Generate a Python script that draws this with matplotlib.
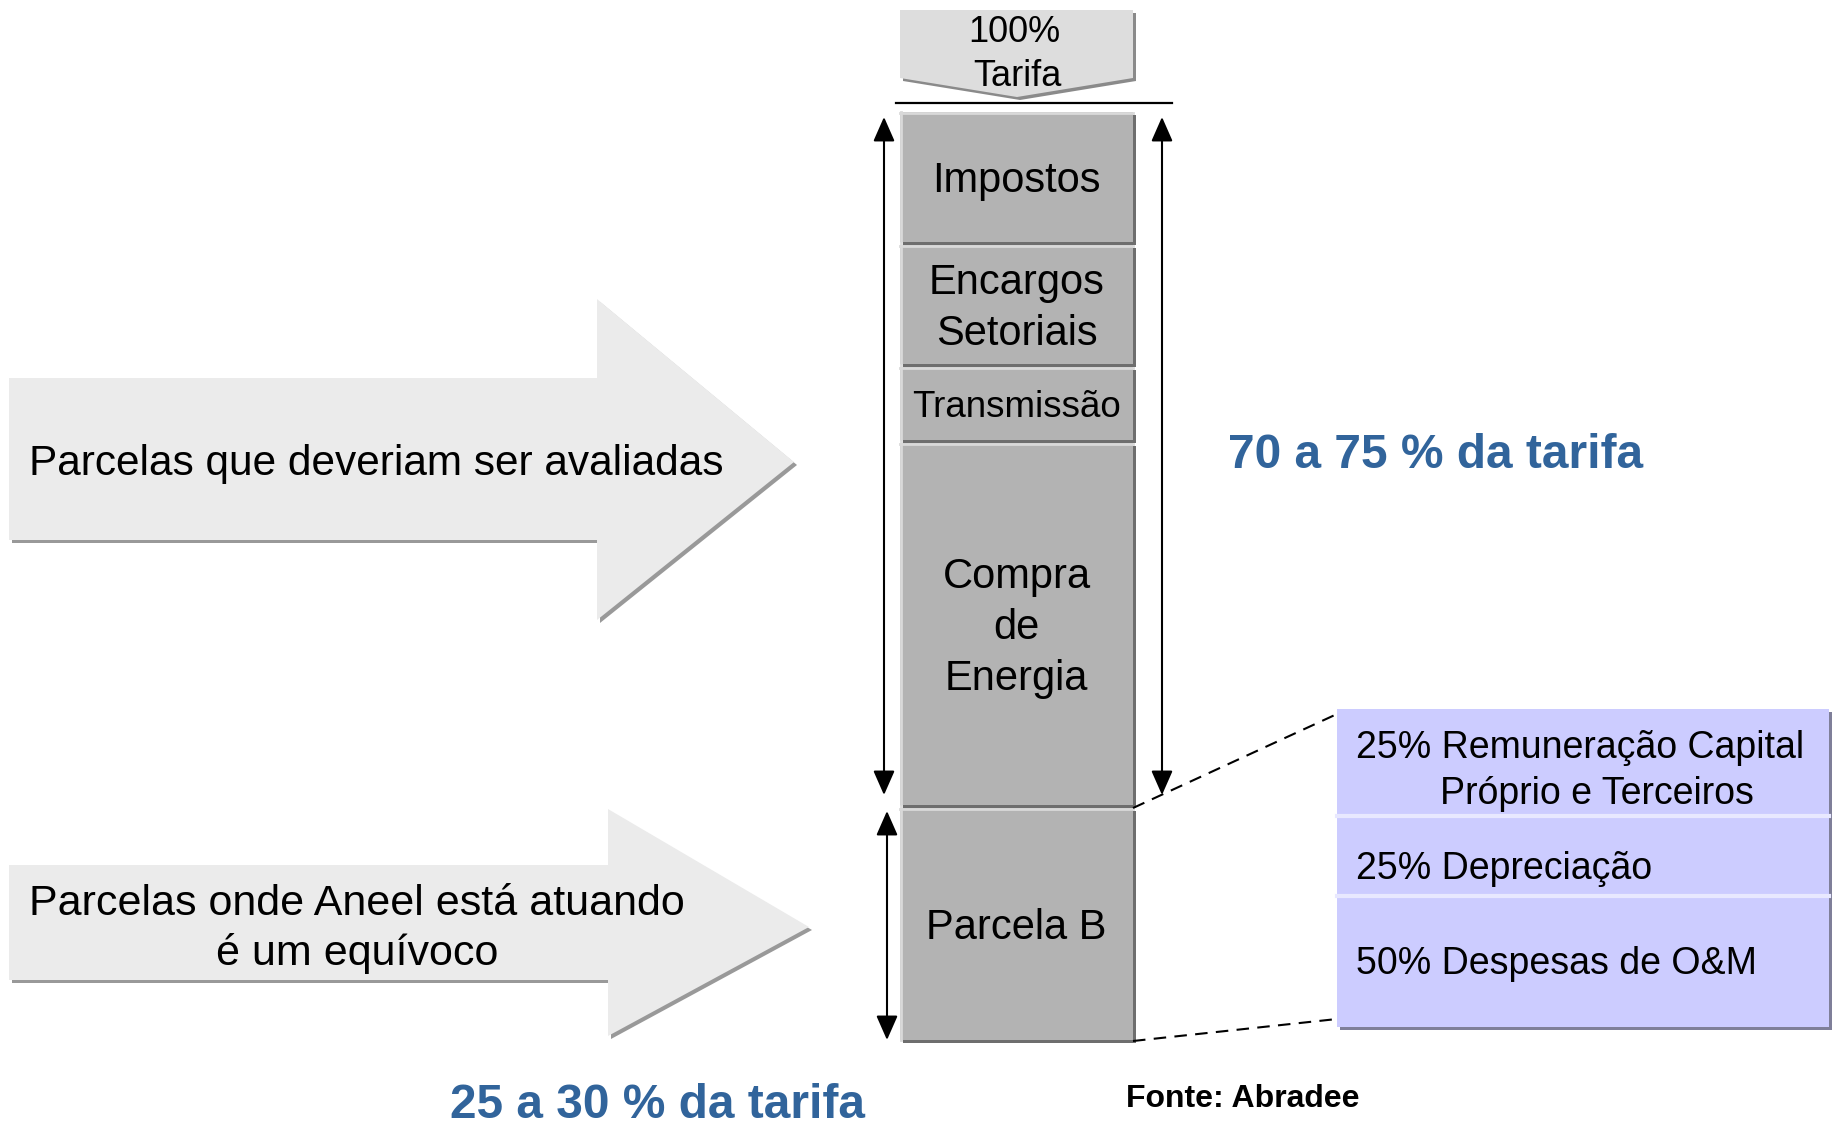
import matplotlib.pyplot as plt
from matplotlib.patches import Polygon, Rectangle

plt.rcParams['font.family'] = ['Liberation Sans', 'DejaVu Sans']

# stacked tariff column (labels top -> bottom, schematic heights)
seg_labels = ["Impostos", "Encargos\nSetoriais", "Transmissão", "Compra\nde\nEnergia", "Parcela B"]
seg_heights = [133, 122, 76, 365, 235]
seg_sizes = [30, 30, 26.5, 30, 30]

# breakdown of Parcela B
parcela_b = ["25% Remuneração Capital", "25% Depreciação", "50% Despesas de O&M"]
parcela_b_rows = [107, 80, 131]

arrow_texts = ["Parcelas que deveriam ser avaliadas", "Parcelas onde Aneel está atuando\né um equívoco"]
share_texts = ["70 a 75 % da tarifa", "25 a 30 % da tarifa"]
blue = "#31649b"

fig = plt.figure(figsize=(18.34, 11.28), dpi=100)
ax = fig.add_axes([0, 0, 1, 1])
ax.set_xlim(0, 1834)
ax.set_ylim(1128, 0)
ax.axis('off')


def shape(pts, fc, sc, off=4, z=1):
    ax.add_patch(Polygon([(x + off, y + off) for x, y in pts], closed=True, fc=sc, ec='none', zorder=z))
    ax.add_patch(Polygon(pts, closed=True, fc=fc, ec='none', zorder=z + 0.1))


# 100% Tarifa pentagon
shape([(900, 10), (1133, 10), (1133, 78), (1017, 97), (900, 78)], '#dddddd', '#8a8a8a', 3)
ax.text(1014, 32, "100%", ha='center', va='center', fontsize=26, zorder=5)
ax.text(1017, 76, "Tarifa", ha='center', va='center', fontsize=26, zorder=5)
ax.plot([896, 1172], [103, 103], color='black', lw=1.6)

# column segments
x0, x1 = 900, 1133
y = 112
for lab, h, fs in zip(seg_labels, seg_heights, seg_sizes):
    top, bot = y, y + h - 3
    ax.add_patch(Rectangle((x0 + 3, top + 3), x1 - x0, bot - top, fc='#6e6e6e', ec='none', zorder=2))
    ax.add_patch(Rectangle((x0, top), x1 - x0, bot - top, fc='#b3b3b3', ec='none', zorder=2.1))
    ax.plot([x0, x1], [top + 1, top + 1], color='#d9d9d9', lw=2, zorder=2.2)
    ax.plot([x0 + 1, x0 + 1], [top, bot], color='#d9d9d9', lw=2, zorder=2.2)
    ax.text((x0 + x1) / 2, (top + bot) / 2 + 4, lab, ha='center', va='center', fontsize=fs,
            linespacing=1.35, zorder=5)
    y += h

# vertical dimension arrows
arr = dict(arrowstyle='<|-|>,head_length=0.75,head_width=0.33', color='black', lw=1.5,
           shrinkA=0, shrinkB=0, mutation_scale=20)
ax.annotate('', xy=(884, 117), xytext=(884, 795), arrowprops=arr)
ax.annotate('', xy=(1162, 117), xytext=(1162, 795), arrowprops=arr)
ax.annotate('', xy=(887, 811), xytext=(887, 1040), arrowprops=arr)

# big grey arrows on the left
shape([(9, 378), (597, 378), (597, 299), (794, 462), (597, 620), (597, 540), (9, 540)], '#ebebeb', '#999999', 3)
shape([(9, 865), (608, 865), (608, 809), (809, 927), (608, 1036), (608, 980), (9, 980)], '#ebebeb', '#999999', 3)
ax.text(29, 464, arrow_texts[0], ha='left', va='center', fontsize=30.5, zorder=5)
ax.text(357, 929, arrow_texts[1], ha='center', va='center', fontsize=31, linespacing=1.3, zorder=5)

# Parcela B breakdown box
bx0, bx1, by0 = 1337, 1829, 709
by1 = by0 + sum(parcela_b_rows)
ax.add_patch(Rectangle((bx0 + 3, by0 + 3), bx1 - bx0, by1 - by0, fc='#7f7f99', ec='none', zorder=2))
ax.add_patch(Rectangle((bx0, by0), bx1 - bx0, by1 - by0, fc='#ccccff', ec='none', zorder=2.1))
yy = by0
for i, h in enumerate(parcela_b_rows):
    if i > 0:
        ax.plot([bx0, bx1], [yy, yy], color='#e8e8ff', lw=3, zorder=2.2)
    yy += h
ax.text(1356, 748, parcela_b[0], ha='left', va='center', fontsize=27, zorder=5)
ax.text(1440, 794, "Próprio e Terceiros", ha='left', va='center', fontsize=27, zorder=5)
ax.text(1356, 869, parcela_b[1], ha='left', va='center', fontsize=27, zorder=5)
ax.text(1356, 964, parcela_b[2], ha='left', va='center', fontsize=27, zorder=5)

# dashed zoom lines
ax.plot([1133, 1337], [808, 714], color='black', lw=1.5, ls=(0, (6, 4)), zorder=3)
ax.plot([1133, 1337], [1041, 1019], color='black', lw=1.5, ls=(0, (6, 4)), zorder=3)

ax.text(1436, 456, share_texts[0], ha='center', va='center', fontsize=34.5, fontweight='bold', color=blue)
ax.text(658, 1106, share_texts[1], ha='center', va='center', fontsize=34.5, fontweight='bold', color=blue)
ax.text(1126, 1099, "Fonte: Abradee", ha='left', va='center', fontsize=23, fontweight='bold')

fig.savefig('out.png', dpi=100)
